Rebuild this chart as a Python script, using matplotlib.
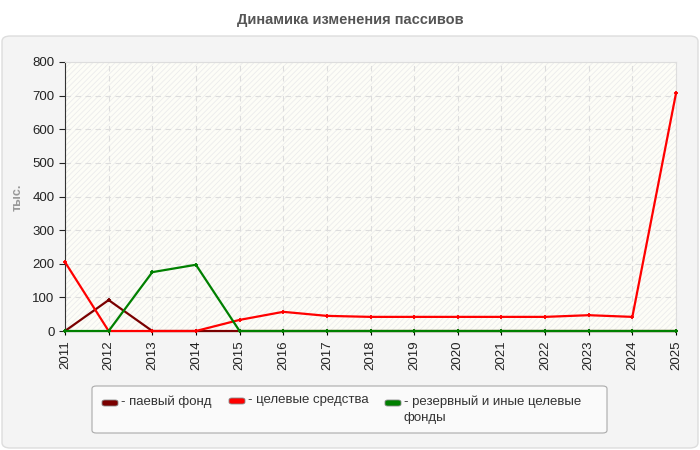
import matplotlib
matplotlib.use("Agg")
import matplotlib.pyplot as plt
from matplotlib.patches import FancyBboxPatch, Rectangle

plt.rcParams['font.family'] = ['Liberation Sans', 'DejaVu Sans']
plt.rcParams['hatch.linewidth'] = 0.6

years = list(range(2011, 2026))
paevoy = [0, 92, 0, 0, 0, 0, 0, 0, 0, 0, 0, 0, 0, 0, 0]
tselevye = [205, 0, 0, 0, 33, 57, 45, 42, 42, 42, 42, 42, 47, 42, 707]
rezerv = [0, 0, 175, 197, 0, 0, 0, 0, 0, 0, 0, 0, 0, 0, 0]

labels = ["- паевый фонд", "- целевые средства", "- резервный и иные целевые\nфонды"]
colors = ["#7a0000", "#ff0000", "#008000"]

W, H = 700, 450
fig = plt.figure(figsize=(7, 4.5), dpi=100)
fig.patch.set_facecolor("white")


def fx(px):
    return px / W


def fy(py):
    return 1 - py / H


# outer panel
panel = FancyBboxPatch((fx(2), fy(448)), fx(696), (448 - 36) / H,
                       boxstyle="round,pad=0,rounding_size=0.012",
                       transform=fig.transFigure, facecolor="#f4f4f4", edgecolor="#dddddd",
                       linewidth=1, zorder=-10)
fig.patches.append(panel)

fig.text(0.5, fy(20), "Динамика изменения пассивов", ha="center", va="center",
         fontsize=10.5, fontweight="bold", color="#555555")

ax = fig.add_axes([fx(65), fy(331), (676 - 65) / W, (331 - 62) / H])
ax.set_facecolor("#fdfdf7")
ax.add_patch(Rectangle((0, 0), 1, 1, transform=ax.transAxes, facecolor="none",
                       edgecolor="#ececec", hatch="//////", linewidth=0, zorder=0))

series = [paevoy, tselevye, rezerv]
for vals, c in zip(series, colors):
    ax.plot(years, vals, color=c, lw=1.6, marker="+", ms=3.5, mew=1.3, clip_on=False,
            zorder=3)

ax.set_xlim(2011, 2025)
ax.set_ylim(0, 800)
ax.set_xticks(years)
ax.set_xticklabels([str(y) for y in years], rotation=90, fontsize=9.5, color="#222222")
ax.set_yticks(range(0, 801, 100))
ax.tick_params(axis="y", labelsize=9.5, colors="#222222", length=4, width=0.8)
ax.tick_params(axis="x", length=3, width=0.8)
ax.grid(True, color="#dddddd", linestyle=(0, (5, 4)), linewidth=0.8)
ax.set_axisbelow(True)
for s in ["top", "right"]:
    ax.spines[s].set_color("#dddddd")
ax.spines["left"].set_color("#333333")
ax.spines["bottom"].set_color("#333333")

fig.text(fx(18), fy(197), "тыс.", rotation=90, ha="center", va="center",
         fontsize=9, fontweight="bold", color="#999999")

# legend box drawn by hand
legbox = FancyBboxPatch((fx(92), fy(433)), (607 - 92) / W, (433 - 386) / H,
                        boxstyle="round,pad=0,rounding_size=0.006",
                        transform=fig.transFigure, facecolor="#fafafa", edgecolor="#aaaaaa",
                        linewidth=0.8, zorder=1)
fig.patches.append(legbox)
entry_x = [102, 229, 385]
entry_y = [403, 401, 403]
for x0, y0, c, lab in zip(entry_x, entry_y, colors, labels):
    sw = FancyBboxPatch((fx(x0), fy(y0 + 3)), 16 / W, 6 / H,
                        boxstyle="round,pad=0,rounding_size=0.004",
                        transform=fig.transFigure, facecolor=c, edgecolor="#888888",
                        linewidth=0.6, zorder=2)
    fig.patches.append(sw)
    fig.text(fx(x0 + 19), fy(y0 - 7), lab, ha="left", va="top", fontsize=9.5,
             color="#333333", linespacing=1.35, zorder=3)

fig.savefig("out.png", dpi=100)
